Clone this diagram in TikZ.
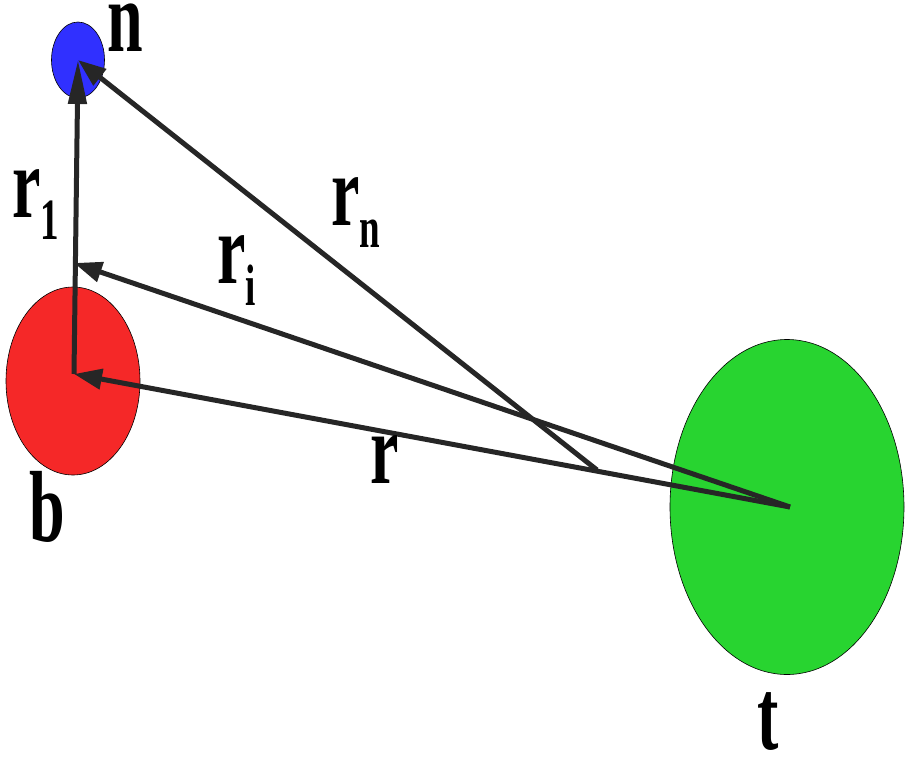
\documentclass[tikz,border=0pt]{standalone}
\usepackage{fontspec}
\setmainfont{Liberation Serif}
\usetikzlibrary{arrows.meta,shapes.geometric}
\definecolor{ballblue}{RGB}{48,48,255}
\definecolor{ballred}{RGB}{245,40,40}
\definecolor{ballgreen}{RGB}{40,212,48}
\definecolor{vec}{RGB}{38,38,38}
\newcommand{\tall}[1]{\smash{\scalebox{1}[1.58]{#1}}}
\newcommand{\idx}[1]{\raisebox{-14pt}{\fontsize{37}{37}\selectfont #1}}
\begin{document}
\begin{tikzpicture}[x=1pt,y=-1pt,
	>={Triangle[length=28pt,width=20pt]},
	ball/.style={ellipse,draw=black,line width=0.6pt,inner sep=0pt},
	vector/.style={->,color=vec,line width=5pt},
	lab/.style={anchor=base west,inner sep=0pt,font=\fontsize{64}{64}\selectfont\bfseries}]
	\useasboundingbox (0,0) rectangle (905,760);
	\node[ball,fill=ballblue,minimum width=53,minimum height=76] (n) at (78,60) {};
	\node[ball,fill=ballred,minimum width=134,minimum height=188] (b) at (73,381) {};
	\node[ball,fill=ballgreen,minimum width=234,minimum height=335] (t) at (787,507) {};
	\coordinate (o) at (74,374);
	\coordinate (s) at (790,507);
	\coordinate (i) at (74,263);
	\coordinate (m) at (597,470);
	\draw[vector,-{Triangle[length=44pt,width=18pt]}] (o) -- (n.center);
	\draw[vector] (s) -- (o);
	\draw[vector] (s) -- (i);
	\draw[vector] (m) -- (n.center);
	\node[lab] (n-lab) at (107,52) {\tall{n}};
	\node[lab] (b-lab) at (29,541) {\tall{b}};
	\node[lab] (t-lab) at (757,749) {\tall{t}};
	\node[lab] (r-lab) at (370,483) {\tall{r}};
	\node[lab] (r1-lab) at (12,217) {\tall{r\idx{1}}};
	\node[lab] (ri-lab) at (217,283) {\tall{r\idx{i}}};
	\node[lab] (rn-lab) at (331,225) {\tall{r\idx{n}}};
\end{tikzpicture}
\end{document}
